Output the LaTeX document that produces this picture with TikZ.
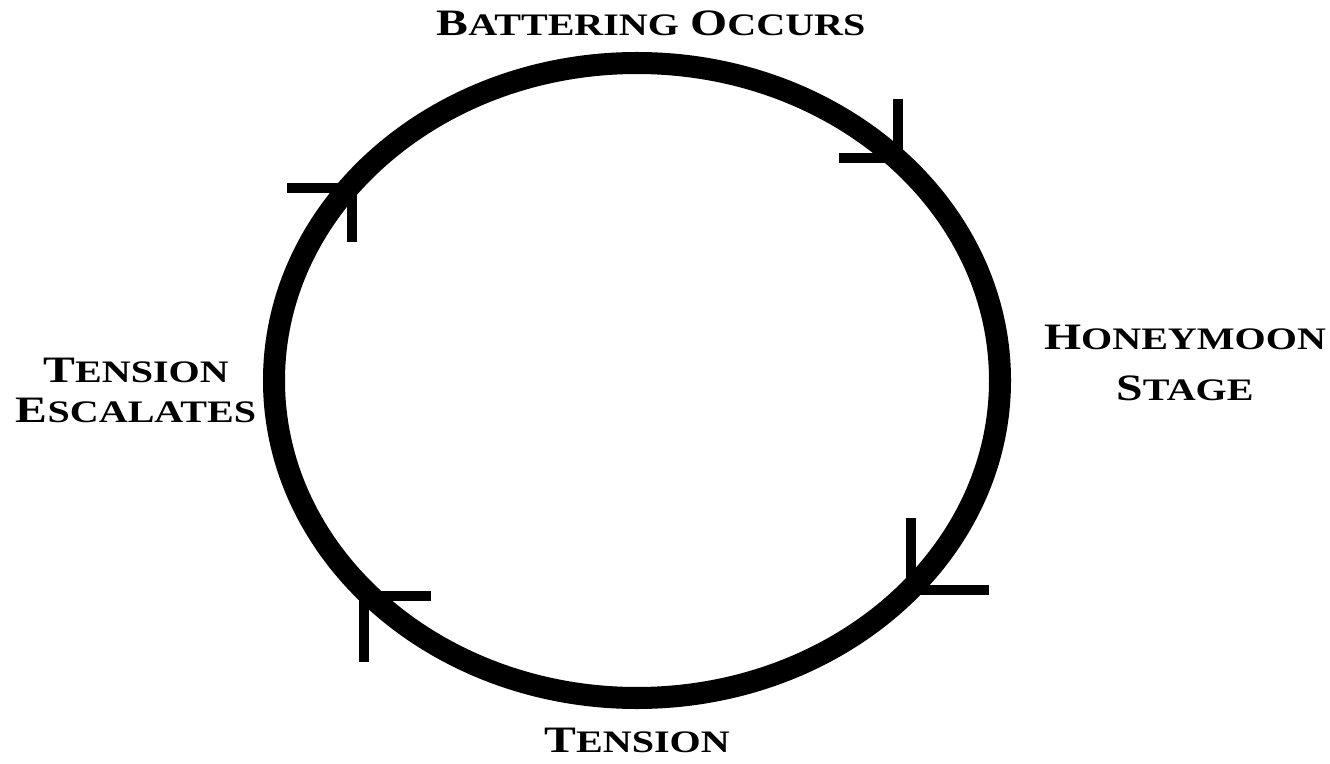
\documentclass[tikz,border=0pt]{standalone}
\usepackage{fontspec}
\usepackage{tikz}
\newfontfamily\capfont{Liberation Serif}[FakeStretch=1.28]
\newcommand\capword[2]{{\fontsize{10.6}{12}\selectfont #1}{\fontsize{8.9}{10}\selectfont #2}}
\tikzset{
  ring/.style={line width=0.22cm},
  tick/.style={line width=0.1cm, line join=miter},
  stage/.style={font=\capfont\bfseries, inner sep=0pt, anchor=base}
}

\begin{document}
\begin{tikzpicture}[x=0.01cm, y=0.01cm]
\useasboundingbox (0,0) rectangle (1330,763);

% Cycle ring
\draw[ring] (637,382.5) ellipse [x radius=363, y radius=317.5];

% Direction ticks
\draw[tick] (839,605) -- (898,605) -- (898,664);
\draw[tick] (911,245) -- (911,173) -- (989,173);
\draw[tick] (431,167) -- (364,167) -- (364,101);
\draw[tick] (287,575) -- (352,575) -- (352,521);

% Stages
\node[stage] (batter) at (651,727) {\capword{B}{ATTERING} \capword{O}{CCURS}};
\node[stage] (honey) at (1185,413) {\capword{H}{ONEYMOON}};
\node[stage] (honey2) at (1185,363) {\capword{S}{TAGE}};
\node[stage] (tension) at (637,11) {\capword{T}{ENSION}};
\node[stage] (escal) at (136,380) {\capword{T}{ENSION}};
\node[stage] (escal2) at (136,341) {\capword{E}{SCALATES}};

\end{tikzpicture}
\end{document}
